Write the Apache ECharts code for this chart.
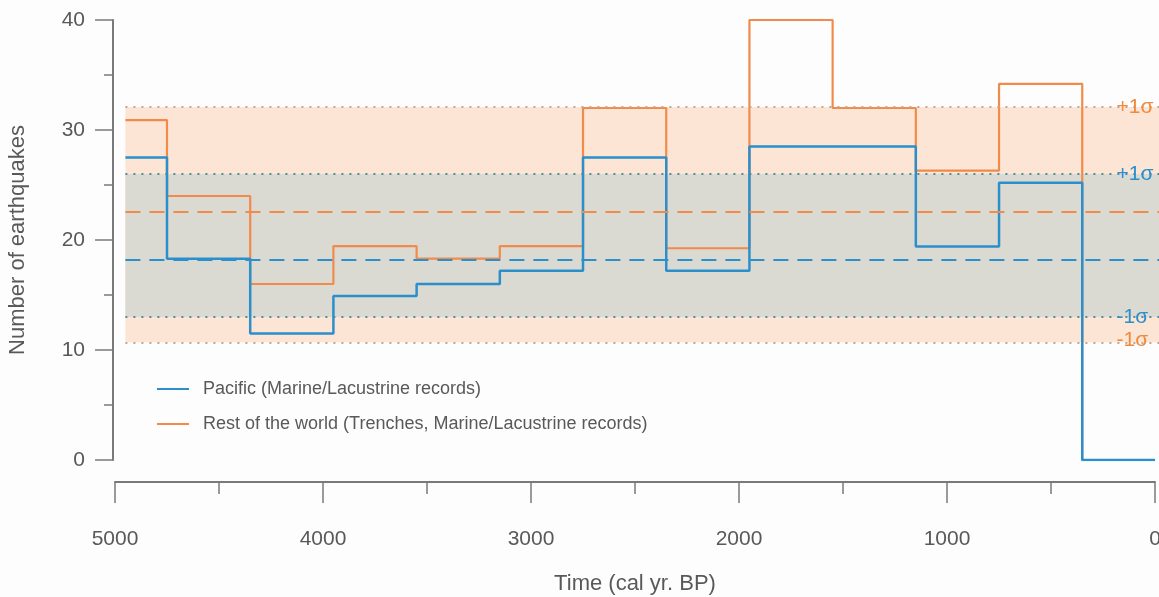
<!DOCTYPE html>
<html>
<head>
<meta charset="utf-8">
<script src="https://cdn.jsdelivr.net/npm/echarts@6/dist/echarts.min.js"></script>
<style>
html,body{margin:0;padding:0;background:#fdfdfd;}
#chart{width:1159px;height:597px;}
</style>
</head>
<body>
<div id="chart"></div>
<script>
// ---- data ----
var binEdges = [4950, 4750, 4350, 3950, 3550, 3150, 2750, 2350, 1950, 1550, 1150, 750, 350, 0];
var pacificValues = [27.5, 18.3, 11.5, 14.9, 16.0, 17.2, 27.5, 17.2, 28.5, 28.5, 19.4, 25.2, 0];
var worldValues   = [30.9, 24.0, 16.0, 19.45, 18.3, 19.45, 32.0, 19.25, 40.0, 32.0, 26.3, 34.2, 0];
var pacificMean = 18.2, pacificMinus1 = 13.0, pacificPlus1 = 26.0;
var worldMean = 22.6, worldMinus1 = 10.7, worldPlus1 = 32.1;
var yTicks = [0, 10, 20, 30, 40];
var xTicks = [5000, 4000, 3000, 2000, 1000, 0];
var seriesNames = ['Pacific (Marine/Lacustrine records)', 'Rest of the world (Trenches, Marine/Lacustrine records)'];
var sigmaLabels = ['+1σ', '-1σ'];

// ---- styles ----
var BLUE = '#2b8fcb', ORANGE = '#f08b4c';
var AXIS = '#7a7a7a', TXT = '#595959';
var bandStart = binEdges[0], bandEnd = -19, labelX = 185;

function steps(edges, vals) {
  var pts = [];
  for (var i = 0; i < vals.length; i++) {
    pts.push([edges[i], vals[i]]);
    pts.push([edges[i + 1], vals[i]]);
  }
  return pts;
}
function hline(y, color, type, width) {
  return [{coord: [bandStart, y], lineStyle: {color: color, type: type, width: width}}, {coord: [bandEnd, y]}];
}
function sigmaPoint(y, text, color) {
  return {coord: [labelX, y], symbol: 'circle', symbolSize: 0,
    label: {show: true, formatter: text, position: 'right', distance: 0, color: color, fontSize: 21,
      fontFamily: 'Liberation Sans, Arial, sans-serif'}};
}

var chart = echarts.init(document.getElementById('chart'), null, {renderer: 'canvas'});
chart.setOption({
  backgroundColor: '#fdfdfd',
  animation: false,
  textStyle: {fontFamily: 'Liberation Sans, Arial, sans-serif'},
  grid: [
    {left: 115, right: 0, top: 20, bottom: 137, containLabel: false, outerBoundsMode: 'none'},
    {left: 115, right: 4, top: 20, bottom: 137, containLabel: false, outerBoundsMode: 'none'}
  ],
  legend: {
    data: seriesNames,
    orient: 'vertical',
    left: 157, top: 379, padding: 0,
    icon: 'rect', itemWidth: 32, itemHeight: 2,
    itemGap: 15,
    textStyle: {color: TXT, fontSize: 18, lineHeight: 20, padding: [0, 0, 0, 9]}
  },
  xAxis: [
    {gridIndex: 0, type: 'value', inverse: true, min: bandEnd, max: 5000, show: false},
    {gridIndex: 1, type: 'value', inverse: true, min: 0, max: 5000, interval: 1000,
      position: 'bottom', offset: 22,
      name: 'Time (cal yr. BP)', nameLocation: 'middle', nameGap: 91,
      nameTextStyle: {color: TXT, fontSize: 22},
      axisLine: {show: true, onZero: false, lineStyle: {color: AXIS, width: 2}},
      axisTick: {show: true, length: 21, lineStyle: {color: AXIS, width: 1.5}},
      minorTick: {show: true, splitNumber: 2, length: 12, lineStyle: {color: AXIS, width: 1.5}},
      axisLabel: {color: TXT, fontSize: 21, margin: 47, formatter: function (v) { return xTicks.indexOf(v) >= 0 ? String(v) : ''; }},
      splitLine: {show: false}, minorSplitLine: {show: false}}
  ],
  yAxis: [
    {gridIndex: 0, type: 'value', min: 0, max: 40, interval: 10, offset: 2, position: 'left',
      name: 'Number of earthquakes', nameLocation: 'middle', nameGap: 84, nameRotate: 90,
      nameTextStyle: {color: TXT, fontSize: 22},
      axisLine: {show: true, onZero: false, lineStyle: {color: AXIS, width: 2}},
      axisTick: {show: true, length: 18, lineStyle: {color: AXIS, width: 1.5}},
      minorTick: {show: true, splitNumber: 2, length: 9, lineStyle: {color: AXIS, width: 1.5}},
      axisLabel: {color: TXT, fontSize: 21, margin: 28, formatter: function (v) { return yTicks.indexOf(v) >= 0 ? String(v) : ''; }},
      splitLine: {show: false}, minorSplitLine: {show: false}},
    {gridIndex: 1, type: 'value', min: 0, max: 40, show: false}
  ],
  series: [
    {
      name: 'bands', type: 'line', xAxisIndex: 0, yAxisIndex: 0, data: [], silent: true,
      markArea: {silent: true, data: [
        [{coord: [bandStart, worldMinus1], itemStyle: {color: '#fde5d5'}}, {coord: [bandEnd, worldPlus1]}],
        [{coord: [bandStart, pacificMinus1], itemStyle: {color: '#dbdad2'}}, {coord: [bandEnd, pacificPlus1]}]
      ]},
      markLine: {silent: true, symbol: 'none', label: {show: false}, data: [
        hline(worldPlus1, '#c4a490', [2, 6], 2),
        hline(worldMinus1, '#c4a490', [2, 6], 2),
        hline(pacificPlus1, '#4e8c98', [2, 6], 2),
        hline(pacificMinus1, '#4e8c98', [2, 6], 2),
        hline(worldMean, ORANGE, [15, 9], 2),
        hline(pacificMean, BLUE, [15, 9], 2)
      ]},
      markPoint: {silent: true, data: [
        sigmaPoint(worldPlus1, sigmaLabels[0], '#ef8a3f'),
        sigmaPoint(worldMinus1 + 0.15, sigmaLabels[1], '#ef8a3f'),
        sigmaPoint(pacificPlus1, sigmaLabels[0], '#2a90cd'),
        sigmaPoint(pacificMinus1, sigmaLabels[1], '#2a90cd')
      ]}
    },
    {
      name: seriesNames[1], type: 'line', xAxisIndex: 0, yAxisIndex: 0,
      data: steps(binEdges, worldValues), showSymbol: false, symbol: 'none',
      lineStyle: {color: ORANGE, width: 2.2}, itemStyle: {color: ORANGE}
    },
    {
      name: seriesNames[0], type: 'line', xAxisIndex: 0, yAxisIndex: 0,
      data: steps(binEdges, pacificValues), showSymbol: false, symbol: 'none',
      lineStyle: {color: BLUE, width: 2.5}, itemStyle: {color: BLUE}
    }
  ]
});
</script>
</body>
</html>
